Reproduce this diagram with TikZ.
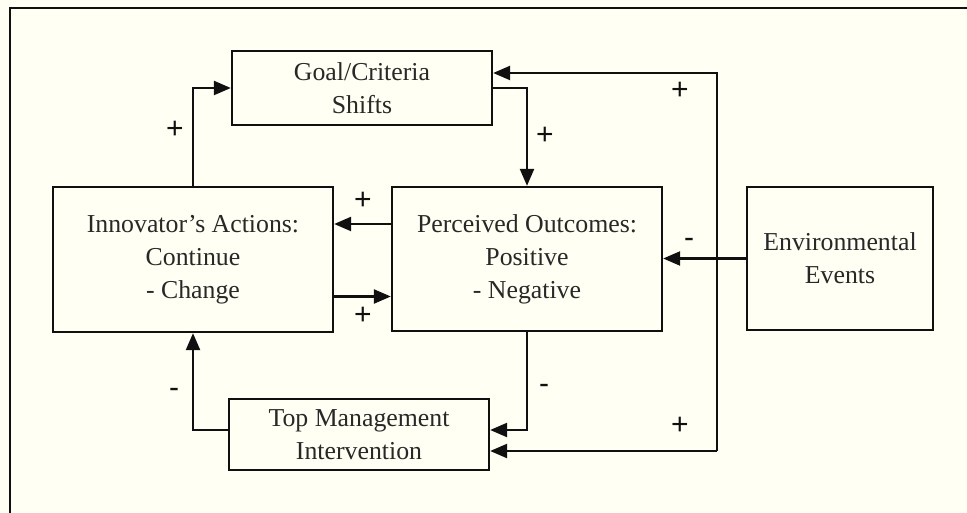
\documentclass[tikz,border=0pt]{standalone}
\usepackage{fontspec}
\setmainfont{Liberation Serif}
\newfontfamily\labfont{Liberation Sans}
\usetikzlibrary{arrows.meta}
\definecolor{bgc}{HTML}{FFFFF3}
\definecolor{ink}{HTML}{101010}
\begin{document}
\begin{tikzpicture}[x=1pt,y=-1pt,
  box/.style={draw=ink, line width=2.3pt, fill=bgc, inner sep=0pt, align=center,
    font=\fontsize{25.8}{33}\selectfont, text=ink!90},
  arr/.style={draw=ink, line width=2.3pt, -{Triangle[length=17pt,width=14pt]}},
  sgn/.style={font=\labfont\fontsize{30}{30}\selectfont, anchor=base, inner sep=0pt, text=ink}]
\fill[bgc] (0,0) rectangle (967,513);
\useasboundingbox (0,0) rectangle (967,513);
\draw[ink, line width=2.3pt] (10,513) -- (10,8) -- (967,8);

\node[box, minimum width=260pt, minimum height=74pt] (goal) at (362,88) {Goal/Criteria\\Shifts};
\node[box, minimum width=280pt, minimum height=145pt] (inn) at (193,259.5) {Innovator’s Actions:\\Continue\\- Change};
\node[box, minimum width=270pt, minimum height=144pt] (perc) at (527,259) {Perceived Outcomes:\\Positive\\- Negative};
\node[box, minimum width=186pt, minimum height=143pt] (env) at (840,258.5) {Environmental\\Events};
\node[box, minimum width=260pt, minimum height=71pt] (tm) at (359,434.5) {Top Management\\Intervention};

\coordinate (rt) at (717,73);
\coordinate (rb) at (717,451);

\draw[arr] (inn.north) |- (goal.west);
\draw[arr] (goal.east) -| (perc.north);
\draw[arr] (rb) -- (rt) -- (goal.east |- rt);
\draw[arr] (rb) -- (tm.east |- rb);
\draw[arr] (env.west) -- (perc.east |- env.west);
\draw[arr] ([yshift=35pt]perc.west) -- ([yshift=35pt]perc.west -| inn.east);
\draw[arr] ([yshift=-37pt]inn.east) -- ([yshift=-37pt]inn.east -| perc.west);
\draw[arr] (perc.south) |- ([yshift=4.5pt]tm.east);
\draw[arr] ([yshift=4.5pt]tm.west) -| (inn.south);

\node[sgn] (p1) at (175,138.5) {+};
\node[sgn] (p2) at (545,144.5) {+};
\node[sgn] (p3) at (680,99.5) {+};
\node[sgn] (p4) at (363,209.5) {+};
\node[sgn] (p5) at (363,324.5) {+};
\node[sgn] (p6) at (680,434.5) {+};
\node[sgn] (m1) at (689,248) {-};
\node[sgn] (m2) at (174,397) {-};
\node[sgn] (m3) at (544,393) {-};
\end{tikzpicture}
\end{document}
